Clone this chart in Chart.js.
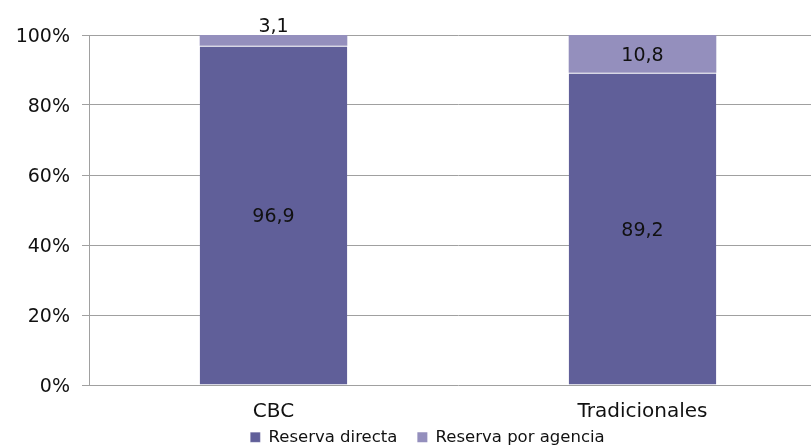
<!DOCTYPE html>
<html>
<head>
<meta charset="utf-8">
<script src="https://cdn.jsdelivr.net/npm/chart.js@4.4.1/dist/chart.umd.min.js"></script>
<style>
  html, body { margin: 0; padding: 0; background: #fff; overflow: hidden; }
  #wrap { width: 827px; height: 445px; }
</style>
</head>
<body>
<div id="wrap"><canvas id="chart" width="827" height="445"></canvas></div>
<script>
// values (percent of bookings)
const categories = ['CBC', 'Tradicionales'];
const directa = [96.9, 89.2];
const agencia = [3.1, 10.8];
const seriesNames = ['Reserva directa', 'Reserva por agencia'];
const yTicks = [0, 20, 40, 60, 80, 100];

const FONT = "'DejaVu Sans', Verdana, sans-serif";
const GRID = '#a0a0a0';
const LEGEND_PAD = 20;

// draws the numbers on each segment, above the bar when the segment is too thin
const valueLabels = {
    id: 'valueLabels',
    afterDatasetsDraw(chart) {
        const ctx = chart.ctx;
        ctx.save();
        ctx.font = '19px ' + FONT;
        ctx.fillStyle = '#111';
        ctx.textAlign = 'center';
        chart.data.datasets.forEach((ds, i) => {
            chart.getDatasetMeta(i).data.forEach((bar, j) => {
                const txt = ds.data[j].toFixed(1).replace('.', ',');
                const h = bar.base - bar.y;
                if (h > 26) {
                    ctx.textBaseline = 'middle';
                    ctx.fillText(txt, bar.x, (bar.y + bar.base) / 2 + 2);
                } else {
                    ctx.textBaseline = 'alphabetic';
                    ctx.fillText(txt, bar.x, bar.y - 3);
                }
            });
        });
        ctx.restore();
    }
};

// nudge the legend: wide gap between items but a tight band under the axis
const legendNudge = {
    id: 'legendNudge',
    afterLayout(chart) {
        const lg = chart.legend;
        lg.top -= LEGEND_PAD - 3;
        lg.left += 28;
    }
};

new Chart(document.getElementById('chart'), {
    type: 'bar',
    data: {
        labels: categories,
        datasets: [{
            label: seriesNames[0],
            data: directa,
            backgroundColor: '#605f99',
            borderColor: 'rgba(255,255,255,0.7)',
            borderWidth: {top: 1, left: 0, right: 0, bottom: 0},
            borderSkipped: false
        }, {
            label: seriesNames[1],
            data: agencia,
            backgroundColor: '#948fbd',
            borderWidth: 0
        }]
    },
    options: {
        responsive: false,
        animation: false,
        categoryPercentage: 1,
        barPercentage: 0.4,
        layout: {
            padding: {left: 0, right: 0, top: 35, bottom: 0}
        },
        scales: {
            x: {
                stacked: true,
                grid: {display: false, drawTicks: false},
                border: {display: false},
                ticks: {
                    padding: 15,
                    color: '#111',
                    font: {family: FONT, size: 20}
                },
                afterFit(scale) { scale.height = 41; }
            },
            y: {
                stacked: true,
                min: 0,
                max: 100,
                afterBuildTicks(scale) {
                    scale.ticks = yTicks.map(v => ({value: v}));
                },
                grid: {color: GRID, lineWidth: 1, tickLength: 7},
                border: {display: true, color: GRID},
                ticks: {
                    padding: 12,
                    labelOffset: 2,
                    color: '#111',
                    font: {family: FONT, size: 19},
                    callback: v => v + '%'
                },
                afterFit(scale) { scale.width = 89; }
            }
        },
        plugins: {
            legend: {
                position: 'bottom',
                maxHeight: 19,
                labels: {
                    boxWidth: 10,
                    boxHeight: 10,
                    padding: LEGEND_PAD,
                    color: '#111',
                    font: {family: FONT, size: 16.5}
                }
            },
            tooltip: {enabled: false}
        }
    },
    plugins: [valueLabels, legendNudge]
});
</script>
</body>
</html>
